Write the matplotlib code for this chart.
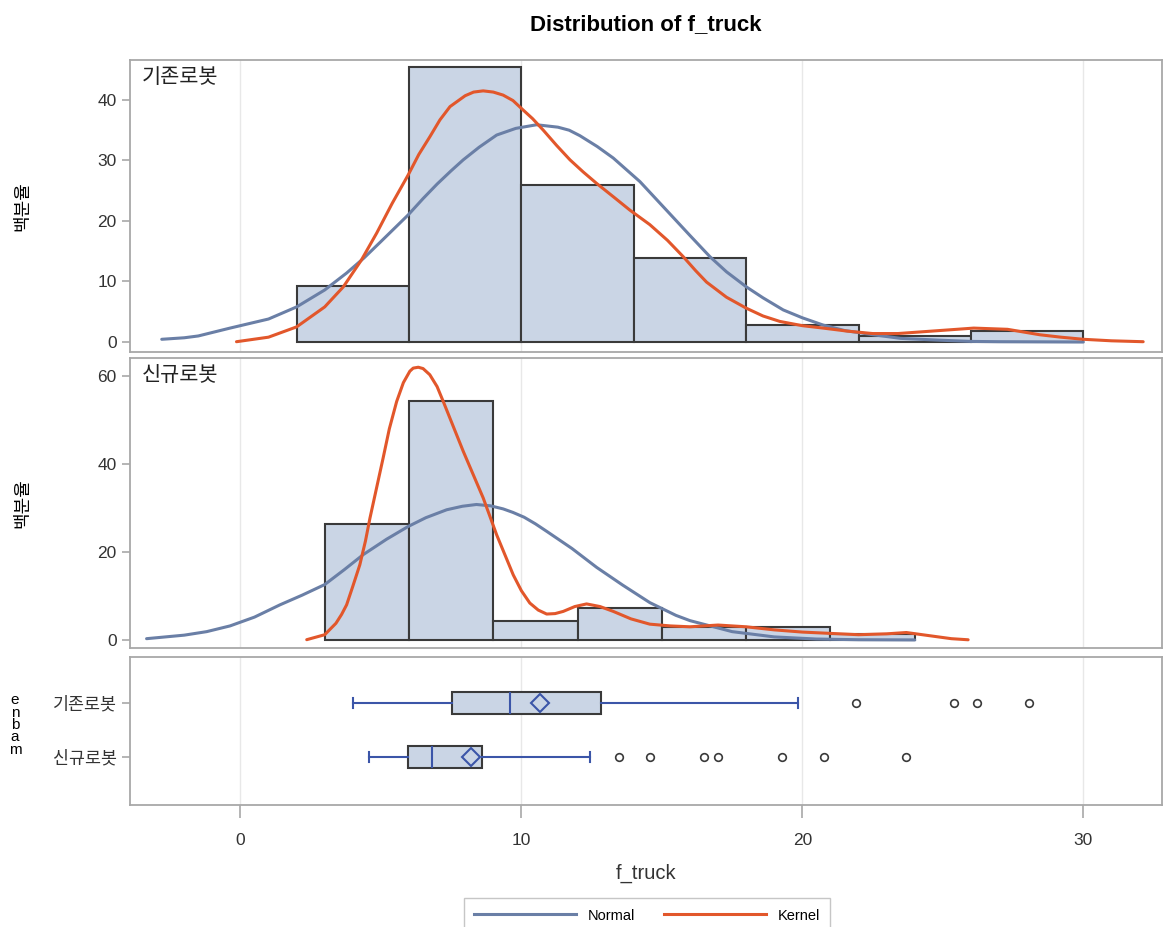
import numpy as np
import matplotlib
matplotlib.use('Agg')
import matplotlib.pyplot as plt
from matplotlib.lines import Line2D

plt.rcParams['font.family'] = ['Liberation Sans', 'Noto Sans CJK KR', 'DejaVu Sans']

groups = ['기존로봇', '신규로봇']

# histogram bins and percentages
edges1 = [2, 6, 10, 14, 18, 22, 26, 30]
pct1 = [9.26, 45.37, 25.93, 13.89, 2.78, 0.93, 1.85]
edges2 = [3, 6, 9, 12, 15, 18, 21, 24]
pct2 = [26.47, 54.41, 4.41, 7.35, 2.94, 2.94, 1.47]

# fitted normal curves (percent scale)
norm1_x = [-2.8, -2.0, -1.5, -0.37, 1.0, 2.0, 3.0, 3.78, 4.4, 5.0, 5.97, 6.5, 7.0, 7.5, 7.93,
           8.5, 9.12, 9.8, 10.54, 11.3, 11.7, 12.08, 12.7, 13.27, 14.22, 15.0, 15.5, 16.0, 16.71,
           17.3, 18.01, 18.6, 19.32, 20.0, 20.74, 21.5, 22.52, 23.5, 24.9, 26.0, 27.0, 30.0]
norm1_y = [0.45, 0.7, 1.0, 2.3, 3.8, 5.8, 8.6, 11.4, 13.9, 16.6, 21.0, 23.7, 26.1, 28.3, 30.1,
           32.2, 34.2, 35.3, 35.9, 35.5, 35.0, 34.1, 32.3, 30.4, 26.5, 22.6, 20.1, 17.6, 14.1,
           11.6, 9.1, 7.3, 5.3, 4.0, 2.8, 1.9, 1.2, 0.6, 0.3, 0.1, 0.05, 0.0]
norm2_x = [-3.34, -2.0, -1.2, -0.37, 0.5, 1.41, 2.2, 3.0, 3.7, 4.37, 5.2, 5.97, 6.6, 7.34, 7.9,
           8.4, 8.9, 9.35, 9.7, 10.1, 10.5, 10.9, 11.8, 12.68, 13.6, 14.57, 15.5, 16.0, 17.5,
           19.0, 20.5, 22.0, 24.0]
norm2_y = [0.3, 1.1, 1.9, 3.2, 5.2, 8.0, 10.2, 12.6, 16.0, 19.4, 22.9, 25.8, 27.8, 29.6, 30.4,
           30.8, 30.5, 29.8, 29.0, 27.9, 26.4, 24.7, 20.8, 16.5, 12.5, 8.5, 5.6, 4.4, 1.9,
           0.7, 0.22, 0.06, 0.01]

# kernel density curves (percent scale)
kde1_x = [-0.14, 1.0, 2.0, 3.0, 3.66, 4.3, 4.85, 5.4, 5.97, 6.35, 6.74, 7.1, 7.46, 8.0, 8.3,
          8.64, 9.0, 9.35, 9.7, 10.0, 10.4, 10.78, 11.25, 11.73, 12.2, 12.68, 13.3, 13.86,
          14.57, 15.2, 15.76, 16.2, 16.59, 17.3, 18.0, 18.6, 19.2, 20.0, 20.74, 21.6, 22.5,
          23.4, 24.3, 25.2, 26.1, 27.3, 28.45, 29.2, 30.0, 31.0, 32.13]
kde1_y = [0.05, 0.8, 2.5, 5.8, 9.1, 13.5, 18.0, 22.9, 27.6, 31.0, 33.9, 36.7, 38.9, 40.7, 41.3,
          41.5, 41.3, 40.8, 39.9, 38.6, 36.9, 35.0, 32.5, 30.1, 28.1, 26.2, 23.9, 21.8,
          19.4, 16.8, 14.1, 11.8, 9.9, 7.4, 5.6, 4.3, 3.4, 2.7, 2.3, 1.8, 1.4,
          1.4, 1.7, 2.0, 2.3, 2.1, 1.2, 0.8, 0.45, 0.2, 0.05]
kde2_x = [2.36, 3.0, 3.4, 3.6, 3.78, 4.0, 4.25, 4.45, 4.61, 5.08, 5.3, 5.56, 5.8, 6.03, 6.15,
          6.33, 6.5, 6.74, 7.0, 7.22, 7.93, 8.64, 9.12, 9.71, 10.0, 10.3, 10.6, 10.9, 11.2,
          11.49, 11.9, 12.32, 12.8, 13.27, 13.9, 14.57, 15.3, 16.0, 17.0, 18.0, 19.0, 20.0,
          21.0, 22.0, 23.0, 23.7, 24.5, 25.3, 25.9]
kde2_y = [0.07, 1.2, 3.8, 5.8, 8.0, 12.2, 17.1, 22.5, 27.7, 41.4, 48.0, 54.2, 58.5, 61.1, 61.8,
          62.0, 61.7, 60.3, 57.6, 54.2, 42.9, 32.3, 23.9, 14.8, 11.2, 8.4, 6.8, 5.9, 6.0,
          6.5, 7.6, 8.2, 7.6, 6.5, 4.8, 3.6, 3.2, 3.0, 3.4, 3.0, 2.3, 1.8,
          1.5, 1.2, 1.4, 1.7, 1.0, 0.3, 0.05]

# box plot summaries
whislo = [4.0, 4.57]
q1 = [7.53, 5.96]
med = [9.6, 6.81]
mean = [10.66, 8.2]
q3 = [12.84, 8.61]
whishi = [19.84, 12.44]
fliers = [[21.9, 25.4, 26.2, 28.06],
          [13.47, 14.56, 16.5, 17.0, 19.27, 20.78, 23.68]]

FILL = '#CAD5E5'
EDGE = '#3A3A3A'
NORMC = '#6A7FA6'
KERNC = '#E2572B'
BLUE = '#3B55A8'
FRAME = '#A8A8A8'
TXT = '#333333'

fig = plt.figure(figsize=(11.65, 9.27), dpi=100)
L, W = 130 / 1165, 1032 / 1165
ax1 = fig.add_axes([L, 1 - 352 / 927, W, 292 / 927])
ax2 = fig.add_axes([L, 1 - 648 / 927, W, 290 / 927])
ax3 = fig.add_axes([L, 1 - 805 / 927, W, 148 / 927])

xlim = (-3.93, 32.8)
hists = [(ax1, edges1, pct1, norm1_x, norm1_y, kde1_x, kde1_y, (-1.65, 46.6), [0, 10, 20, 30, 40]),
         (ax2, edges2, pct2, norm2_x, norm2_y, kde2_x, kde2_y, (-1.82, 64.1), [0, 20, 40, 60])]

for i, (ax, ed, pc, nx, ny, kx, ky, yl, yt) in enumerate(hists):
    ax.bar(ed[:-1], pc, width=np.diff(ed), align='edge', color=FILL,
           edgecolor=EDGE, linewidth=1.5, zorder=2)
    ax.plot(nx, ny, color=NORMC, lw=2.2, zorder=3, solid_capstyle='round',
            solid_joinstyle='round')
    ax.plot(kx, ky, color=KERNC, lw=2.2, zorder=4, solid_capstyle='round',
            solid_joinstyle='round')
    ax.set_xlim(*xlim)
    ax.set_ylim(*yl)
    ax.set_yticks(yt)
    ax.set_xticks([0, 10, 20, 30])
    ax.tick_params(axis='x', length=0, labelbottom=False)
    ax.text(0.011, 0.978, groups[i], transform=ax.transAxes, ha='left', va='top',
            fontsize=15, family=['Noto Sans CJK KR'], color='#222222')
    fig.text(22 / 1165, 1 - (206 if i == 0 else 503) / 927, '백분율', rotation=90,
             ha='center', va='center', fontsize=13, family=['Noto Sans CJK KR'])

stats = []
for k in range(2):
    stats.append(dict(whislo=whislo[k], q1=q1[k], med=med[k], mean=mean[k],
                      q3=q3[k], whishi=whishi[k], fliers=fliers[k], label=groups[k]))

ax3.bxp(stats, positions=[0, 1], orientation='horizontal', widths=0.41, showmeans=True,
        patch_artist=True, capwidths=0.2,
        boxprops=dict(facecolor=FILL, edgecolor=EDGE, linewidth=1.5),
        whiskerprops=dict(color=BLUE, linewidth=1.5),
        capprops=dict(color=BLUE, linewidth=1.5),
        medianprops=dict(color=BLUE, linewidth=1.5),
        meanprops=dict(marker='D', markerfacecolor=FILL, markeredgecolor=BLUE,
                       markersize=9, markeredgewidth=1.5),
        flierprops=dict(marker='o', markerfacecolor='none', markeredgecolor=EDGE,
                        markersize=5.5, markeredgewidth=1.2))
ax3.set_xlim(*xlim)
ax3.set_ylim(1.89, -0.85)
ax3.set_yticks([0, 1])
ax3.set_yticklabels(groups, family=['Noto Sans CJK KR'], fontsize=15)
ax3.set_xticks([0, 10, 20, 30])
ax3.tick_params(axis='x', length=9, pad=11)
fig.text(15 / 1165, 1 - 725 / 927, 'e\nn\nb\na\nm', ha='center', va='center',
         fontsize=11, linespacing=0.85)

for ax in (ax1, ax2, ax3):
    ax.grid(axis='x', color='#E8E8E8', lw=1, zorder=0)
    ax.set_axisbelow(True)
    for s in ax.spines.values():
        s.set_color(FRAME)
        s.set_linewidth(1.3)
    ax.tick_params(colors=FRAME, labelcolor=TXT, labelsize=12.5, width=1.2)
    ax.tick_params(axis='y', length=6)

fig.text(646 / 1165, 1 - 873 / 927, 'f_truck', ha='center', va='center', fontsize=14.5, color=TXT)
fig.text(646 / 1165, 1 - 25 / 927, 'Distribution of f_truck', ha='center', va='center',
         fontsize=16, fontweight='bold')

handles = [Line2D([], [], color=NORMC, lw=2.2), Line2D([], [], color=KERNC, lw=2.2)]
leg = fig.legend(handles, ['Normal', 'Kernel'], loc='upper center',
                 bbox_to_anchor=(647 / 1165, 1 - 891 / 927), ncol=2, fontsize=10.5,
                 handlelength=7.0, columnspacing=2.0, fancybox=False, borderpad=0.7)
leg.get_frame().set_edgecolor('#B8B8B8')
leg.get_frame().set_linewidth(1.0)

fig.savefig('out.png', dpi=100)
